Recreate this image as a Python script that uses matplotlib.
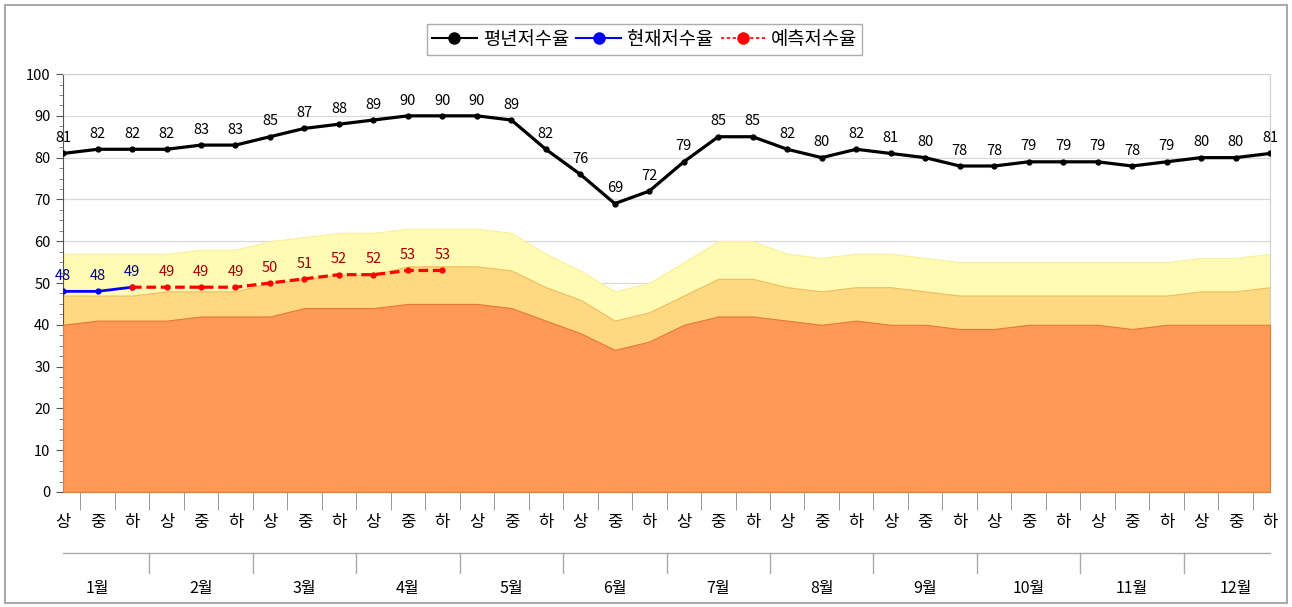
import numpy as np
import matplotlib
matplotlib.use('Agg')
import matplotlib.pyplot as plt
from matplotlib.lines import Line2D
from matplotlib.patches import Rectangle
from matplotlib.ticker import MultipleLocator

plt.rcParams['font.family'] = ['Noto Sans CJK KR', 'DejaVu Sans']

# data
months = ['1월', '2월', '3월', '4월', '5월', '6월', '7월', '8월', '9월', '10월', '11월', '12월']
periods = ['상', '중', '하']
normal = [81, 82, 82, 82, 83, 83, 85, 87, 88, 89, 90, 90, 90, 89, 82, 76, 69, 72,
          79, 85, 85, 82, 80, 82, 81, 80, 78, 78, 79, 79, 79, 78, 79, 80, 80, 81]
current = [48, 48, 49]
forecast = [49, 49, 49, 49, 50, 51, 52, 52, 53, 53]
forecast_start = 2
band_low = [40, 41, 41, 41, 42, 42, 42, 44, 44, 44, 45, 45, 45, 44, 41, 38, 34, 36,
            40, 42, 42, 41, 40, 41, 40, 40, 39, 39, 40, 40, 40, 39, 40, 40, 40, 40]
band_mid = [47, 47, 47, 48, 48, 48, 50, 51, 52, 52, 54, 54, 54, 53, 49, 46, 41, 43,
            47, 51, 51, 49, 48, 49, 49, 48, 47, 47, 47, 47, 47, 47, 47, 48, 48, 49]
band_high = [57, 57, 57, 57, 58, 58, 60, 61, 62, 62, 63, 63, 63, 62, 57, 53, 48, 50,
             55, 60, 60, 57, 56, 57, 57, 56, 55, 55, 55, 55, 55, 55, 55, 56, 56, 57]

x = np.arange(len(normal))
x_cur = np.arange(len(current))
x_fc = np.arange(forecast_start, forecast_start + len(forecast))

fig = plt.figure(figsize=(12.92, 6.07), dpi=100)
fig.patches.append(Rectangle((0.004, 0.006), 0.992, 0.986, transform=fig.transFigure,
                             fill=False, edgecolor='#9A9A9A', linewidth=1.2))
ax = fig.add_axes([0.0488, 0.1895, 0.9342, 0.6885])

# bands
ax.fill_between(x, 0, band_high, color='#FFFBB4', edgecolor='#FAF09A', linewidth=0.8, zorder=1)
ax.fill_between(x, 0, band_mid, color='#FFD882', edgecolor='#EDBE60', linewidth=0.8, zorder=2)
ax.fill_between(x, 0, band_low, color='#FF9955', edgecolor='#E07A38', linewidth=0.8, zorder=3)

# lines
ax.plot(x, normal, color='black', linewidth=2.3, marker='o', markersize=3.5, zorder=5)
ax.plot(x_cur, current, color='#0000FF', linewidth=2.0, marker='o', markersize=3.5, zorder=6)
ax.plot(x_fc, forecast, color='#FF0000', linewidth=2.3, linestyle=(0, (3, 1.5)),
        marker='o', markersize=3.5, zorder=6)

# data labels
for xi, v in zip(x, normal):
    ax.annotate(str(v), (xi, v), xytext=(0, 6), textcoords='offset points',
                ha='center', va='bottom', fontsize=10.5, color='black', zorder=7)
for xi, v in zip(x_cur, current):
    ax.annotate(str(v), (xi, v), xytext=(0, 6), textcoords='offset points',
                ha='center', va='bottom', fontsize=10.5, color='#000080', zorder=7)
for xi, v in zip(x_fc[1:], forecast[1:]):
    ax.annotate(str(v), (xi, v), xytext=(0, 6), textcoords='offset points',
                ha='center', va='bottom', fontsize=10.5, color='#A00000', zorder=7)

# axes
ax.set_xlim(0, len(normal) - 1)
ax.set_ylim(0, 100)
ax.yaxis.set_major_locator(MultipleLocator(10))
ax.yaxis.set_minor_locator(MultipleLocator(2.5))
ax.grid(axis='y', color='#D9D9D9', linewidth=0.9, zorder=0)
ax.set_axisbelow(True)
ax.tick_params(axis='y', which='major', length=5, color='#555555', labelsize=10.5, pad=4)
ax.tick_params(axis='y', which='minor', length=3, color='#777777')

ax.set_xticks(x)
ax.set_xticklabels(periods * len(months), fontsize=12)
ax.set_xticks(x[:-1] + 0.5, minor=True)
ax.tick_params(axis='x', which='major', length=0, pad=16)
ax.tick_params(axis='x', which='minor', length=13, color='#888888')

for side in ['top', 'right']:
    ax.spines[side].set_color('#D0D0D0')
ax.spines['left'].set_color('#555555')
ax.spines['bottom'].set_color('#555555')

# second level axis (months)
trans = ax.get_xaxis_transform()
ax.plot([0, len(normal) - 1], [-0.145, -0.145], transform=trans, color='#AAAAAA',
        linewidth=1, clip_on=False)
for m in range(1, len(months)):
    xs = m * 3 - 0.5
    ax.plot([xs, xs], [-0.145, -0.195], transform=trans, color='#AAAAAA',
            linewidth=1, clip_on=False)
for m, name in enumerate(months):
    ax.text(m * 3 + 1, -0.23, name, transform=trans, ha='center', va='center',
            fontsize=11.5)

# legend
handles = [
    Line2D([], [], color='black', linewidth=1.5, marker='o', markersize=8),
    Line2D([], [], color='#0000FF', linewidth=1.5, marker='o', markersize=8),
    Line2D([], [], color='#FF0000', linewidth=1.2, linestyle=(0, (2, 1.5)),
           marker='o', markersize=8),
]
fig.legend(handles, ['평년저수율', '현재저수율', '예측저수율'], loc='center',
           bbox_to_anchor=(0.499, 0.935), ncol=3, fontsize=13.5, frameon=True,
           fancybox=False, edgecolor='#999999', handlelength=2.4, handletextpad=0.3,
           columnspacing=0.4, borderpad=0.25)

fig.savefig('out.png', dpi=100)
